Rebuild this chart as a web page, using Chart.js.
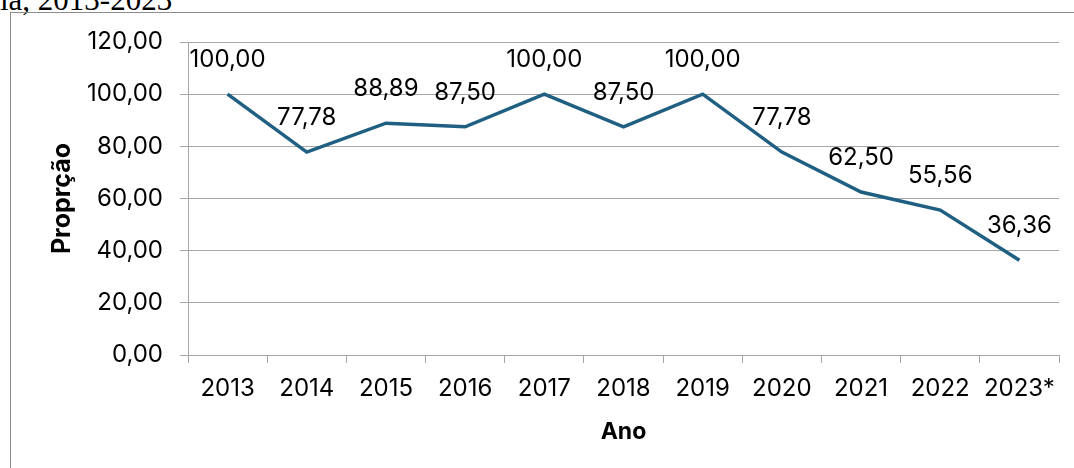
<!DOCTYPE html>
<html>
<head>
<meta charset="utf-8">
<script src="https://cdn.jsdelivr.net/npm/chart.js@4.4.0/dist/chart.umd.min.js"></script>
<style>
    html, body { margin: 0; padding: 0; background: #fff; overflow: hidden; }
    #wrap { position: relative; width: 1074px; height: 468px; }
    #caption {
        position: absolute; left: 0; top: -15px;
        font: 31px "Liberation Serif", "Times New Roman", serif;
        line-height: 30px; color: #000; white-space: nowrap;
    }
    #frame {
        position: absolute; left: 10px; top: 12px; width: 1100px; height: 500px;
        border-left: 1px solid #8c8c8c; border-top: 1px solid #8c8c8c;
    }
    #chart { position: absolute; left: 0; top: 0; }
</style>
</head>
<body>
<div id="wrap">
    <div id="caption">ia, 2013-2023</div>
    <div id="frame"></div>
    <canvas id="chart" width="1074" height="468"></canvas>
</div>
<script>
// Data
const years = ['2013', '2014', '2015', '2016', '2017', '2018', '2019', '2020', '2021', '2022', '2023*'];
const proportions = [100.00, 77.78, 88.89, 87.50, 100.00, 87.50, 100.00, 77.78, 62.50, 55.56, 36.36];
const yTicks = [0, 20, 40, 60, 80, 100, 120];

const FONT = 'Inter, "Liberation Sans", Arial, sans-serif';

function formatNumber(v) {
    return v.toFixed(2).replace('.', ',');
}

// Draw value labels above each point (no datalabels plugin available)
const valueLabels = {
    id: 'valueLabels',
    afterDatasetsDraw(chart) {
        const ctx = chart.ctx;
        const meta = chart.getDatasetMeta(0);
        ctx.save();
        ctx.font = '24px ' + FONT;
        ctx.fillStyle = '#000';
        ctx.textAlign = 'center';
        ctx.textBaseline = 'middle';
        meta.data.forEach(function(pt, i) {
            ctx.fillText(formatNumber(proportions[i]), pt.x, pt.y - 34);
        });
        ctx.restore();
    }
};

new Chart(document.getElementById('chart'), {
    type: 'line',
    data: {
        labels: years,
        datasets: [{
            data: proportions,
            borderColor: '#1f5f82',
            borderWidth: 3.5,
            pointRadius: 0,
            tension: 0,
            fill: false
        }]
    },
    options: {
        responsive: false,
        animation: false,
        layout: { padding: { left: 0, right: 15, top: 42, bottom: 0 } },
        plugins: {
            legend: { display: false },
            tooltip: { enabled: false }
        },
        scales: {
            x: {
                offset: true,
                grid: {
                    offset: true,
                    drawOnChartArea: false,
                    drawTicks: true,
                    tickLength: 8,
                    color: '#a6a6a6',
                    lineWidth: 1
                },
                border: { display: true, color: '#a6a6a6', width: 1 },
                ticks: {
                    color: '#000',
                    font: { family: FONT, size: 24 },
                    padding: 11,
                    maxRotation: 0,
                    autoSkip: false
                },
                title: {
                    display: true,
                    text: 'Ano',
                    color: '#000',
                    font: { family: FONT, size: 23, weight: 'bold' },
                    padding: { top: 0, bottom: 22 }
                },
                afterFit(scale) { scale.height = 468 - 355; }
            },
            y: {
                min: 0,
                max: 120,
                afterBuildTicks(scale) {
                    scale.ticks = yTicks.map(v => ({ value: v }));
                },
                grid: {
                    color: '#a6a6a6',
                    lineWidth: 1,
                    drawTicks: true,
                    tickLength: 8
                },
                border: { display: true, color: '#a6a6a6', width: 1 },
                ticks: {
                    color: '#000',
                    font: { family: FONT, size: 24 },
                    padding: 17,
                    callback: v => formatNumber(v)
                },
                title: {
                    display: true,
                    text: 'Proprção',
                    color: '#000',
                    font: { family: FONT, size: 25, weight: 'bold' },
                    padding: { top: 47, bottom: 0 }
                },
                afterFit(scale) { scale.width = 188; }
            }
        }
    },
    plugins: [valueLabels]
});
</script>
</body>
</html>
